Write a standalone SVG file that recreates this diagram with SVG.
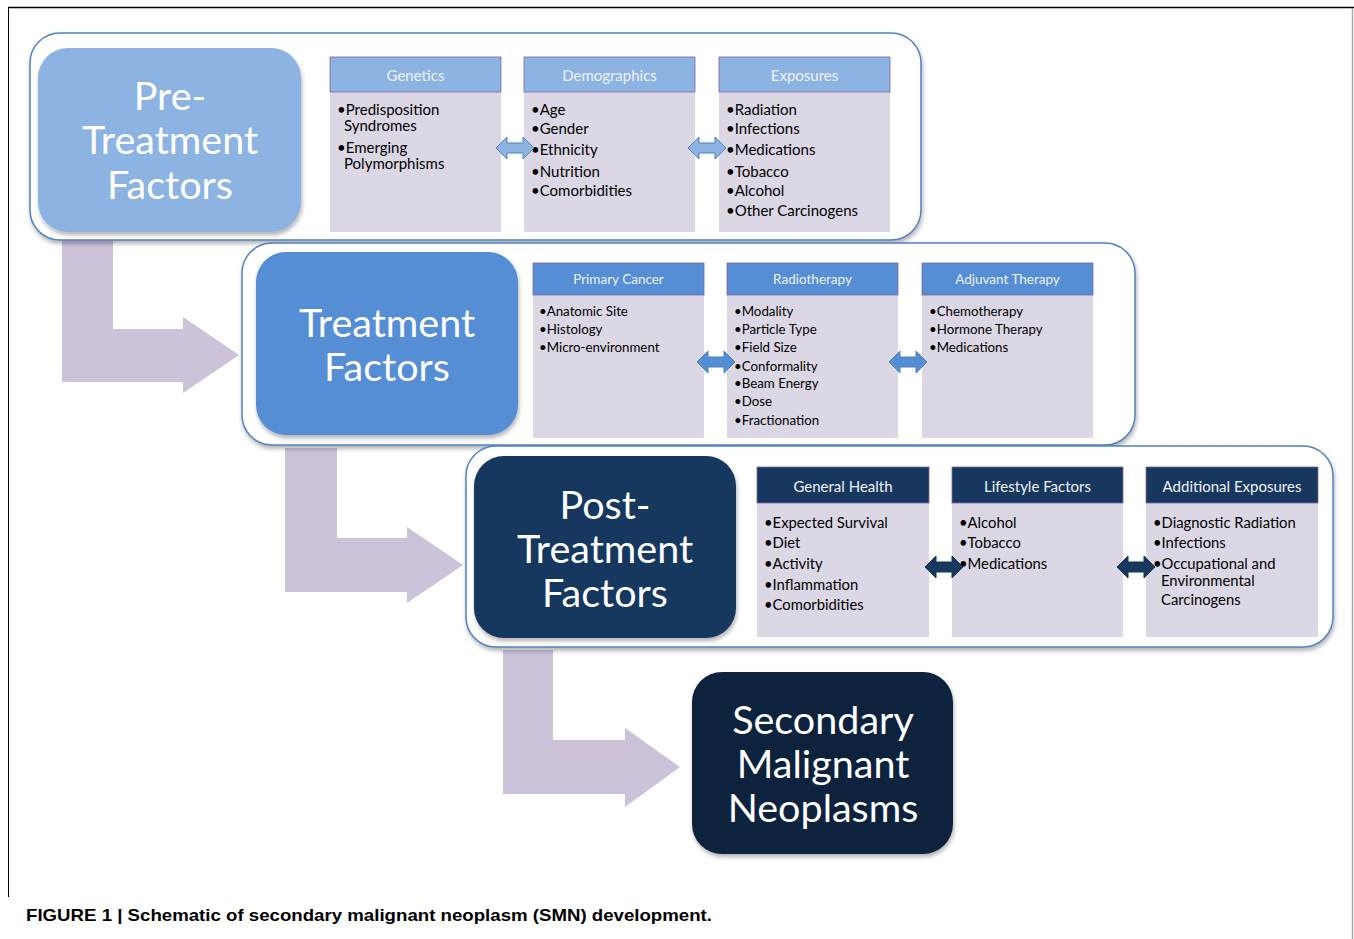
<svg xmlns="http://www.w3.org/2000/svg" width="1354" height="939" viewBox="0 0 1354 939">
<defs>
<style>
.big{font-family:Lato,"Open Sans",sans-serif;font-size:39.5px;fill:#ffffff;text-anchor:middle}
.hd{font-family:Lato,"Open Sans",sans-serif;font-size:15px;text-anchor:middle;fill:#eef2fa}
.hd2{font-family:Lato,"Open Sans",sans-serif;font-size:13.5px;text-anchor:middle;fill:#eef2fa}
.b1{font-family:Lato,"Open Sans",sans-serif;font-size:15px;fill:#000}
.b2{font-family:Lato,"Open Sans",sans-serif;font-size:13.3px;fill:#000}
.b3{font-family:Lato,"Open Sans",sans-serif;font-size:14.8px;fill:#000}
.cont{fill:#ffffff;stroke:#4f81bd;stroke-width:1.5}
.body{fill:#dcd7e4}
.lav{fill:#ccc3da}
</style>
<filter id="sh" x="-10%" y="-10%" width="120%" height="125%">
<feDropShadow dx="1" dy="3" stdDeviation="2" flood-color="#000" flood-opacity="0.3"/>
</filter>
<path id="dbl" d="M-19,0 L-8,-11 L-8,-5 L8,-5 L8,-11 L19,0 L8,11 L8,5 L-8,5 L-8,11 Z"/>
</defs>
<rect x="0" y="0" width="1354" height="939" fill="#ffffff"/>
<g id="frame">
<line x1="8" y1="7.5" x2="1354" y2="7.5" stroke="#000" stroke-width="1.5"/>
<line x1="8.5" y1="7" x2="8.5" y2="897" stroke="#000" stroke-width="1"/>
<line x1="1352.5" y1="8" x2="1352.5" y2="939" stroke="#aaaaaa" stroke-width="1.5"/>
</g>
<g id="connectors">
<path class="lav" d="M62,238 L113,238 L113,329 L183,329 L183,317 L239,355 L183,393 L183,382 L62,382 Z"/>
<path class="lav" d="M285,448 L337,448 L337,538 L407,538 L407,527 L463,565 L407,603 L407,592 L285,592 Z"/>
<path class="lav" d="M503,650 L553,650 L553,740 L625,740 L625,728 L680,767 L625,807 L625,794 L503,794 Z"/>
</g>
<g id="row1">
<rect class="cont" x="30" y="33" width="891" height="207" rx="30" filter="url(#sh)"/>
</g>
<g id="row2c">
<rect class="cont" x="242" y="243" width="893" height="202" rx="30" filter="url(#sh)"/>
</g>
<g id="row3c">
<rect class="cont" x="466" y="446" width="867" height="201" rx="30" filter="url(#sh)"/>
</g>
<g id="pre-treatment">
<rect x="38" y="48" width="263" height="184" rx="30" fill="#8db3e2" filter="url(#sh)"/>
<text class="big" x="170" y="110">Pre-</text>
<text class="big" x="170" y="154">Treatment</text>
<text class="big" x="170" y="199">Factors</text>
</g>
<g id="genetics">
<rect class="body" x="330" y="92" width="171" height="140"/>
<rect x="330" y="57" width="171" height="35" fill="#8db3e2" stroke="#8064a2" stroke-width="0.8"/>
<text class="hd" x="415.5" y="81">Genetics</text>
<text class="b1" x="337" y="115">•Predisposition</text>
<text class="b1" x="344" y="131">Syndromes</text>
<text class="b1" x="337" y="153">•Emerging</text>
<text class="b1" x="344" y="169">Polymorphisms</text>
</g>
<g id="demographics">
<rect class="body" x="524" y="92" width="171" height="140"/>
<rect x="524" y="57" width="171" height="35" fill="#8db3e2" stroke="#8064a2" stroke-width="0.8"/>
<text class="hd" x="609.5" y="81">Demographics</text>
<text class="b1" x="531" y="115">•Age</text>
<text class="b1" x="531" y="134">•Gender</text>
<text class="b1" x="531" y="155">•Ethnicity</text>
<text class="b1" x="531" y="177">•Nutrition</text>
<text class="b1" x="531" y="196">•Comorbidities</text>
</g>
<g id="exposures">
<rect class="body" x="719" y="92" width="171" height="140"/>
<rect x="719" y="57" width="171" height="35" fill="#8db3e2" stroke="#8064a2" stroke-width="0.8"/>
<text class="hd" x="804.5" y="81">Exposures</text>
<text class="b1" x="726" y="115">•Radiation</text>
<text class="b1" x="726" y="134">•Infections</text>
<text class="b1" x="726" y="155">•Medications</text>
<text class="b1" x="726" y="177">•Tobacco</text>
<text class="b1" x="726" y="196">•Alcohol</text>
<text class="b1" x="726" y="216">•Other Carcinogens</text>
</g>
<g id="treatment">
<rect x="256" y="252" width="262" height="183" rx="30" fill="#558ed5" filter="url(#sh)"/>
<text class="big" x="387" y="337">Treatment</text>
<text class="big" x="387" y="381">Factors</text>
</g>
<g id="primary-cancer">
<rect class="body" x="533" y="295" width="171" height="143"/>
<rect x="533" y="263" width="171" height="32" fill="#558ed5" stroke="#8064a2" stroke-width="0.8"/>
<text class="hd2" x="618.5" y="284">Primary Cancer</text>
<text class="b2" x="539" y="316">•Anatomic Site</text>
<text class="b2" x="539" y="334">•Histology</text>
<text class="b2" x="539" y="352">•Micro-environment</text>
</g>
<g id="radiotherapy">
<rect class="body" x="727" y="295" width="171" height="143"/>
<rect x="727" y="263" width="171" height="32" fill="#558ed5" stroke="#8064a2" stroke-width="0.8"/>
<text class="hd2" x="812.5" y="284">Radiotherapy</text>
<text class="b2" x="734" y="316">•Modality</text>
<text class="b2" x="734" y="334">•Particle Type</text>
<text class="b2" x="734" y="352">•Field Size</text>
<text class="b2" x="734" y="371">•Conformality</text>
<text class="b2" x="734" y="388">•Beam Energy</text>
<text class="b2" x="734" y="406">•Dose</text>
<text class="b2" x="734" y="425">•Fractionation</text>
</g>
<g id="adjuvant-therapy">
<rect class="body" x="922" y="295" width="171" height="143"/>
<rect x="922" y="263" width="171" height="32" fill="#558ed5" stroke="#8064a2" stroke-width="0.8"/>
<text class="hd2" x="1007.5" y="284">Adjuvant Therapy</text>
<text class="b2" x="929" y="316">•Chemotherapy</text>
<text class="b2" x="929" y="334">•Hormone Therapy</text>
<text class="b2" x="929" y="352">•Medications</text>
</g>
<g id="post-treatment">
<rect x="474" y="456" width="262" height="182" rx="30" fill="#17375e" filter="url(#sh)"/>
<text class="big" x="605" y="519">Post-</text>
<text class="big" x="605" y="563">Treatment</text>
<text class="big" x="605" y="607">Factors</text>
</g>
<g id="general-health">
<rect class="body" x="757" y="503" width="172" height="134"/>
<rect x="757" y="467" width="172" height="36" fill="#17375e" stroke="#8064a2" stroke-width="0.8"/>
<text class="hd" x="843" y="492">General Health</text>
<text class="b3" x="764" y="528">•Expected Survival</text>
<text class="b3" x="764" y="548">•Diet</text>
<text class="b3" x="764" y="569">•Activity</text>
<text class="b3" x="764" y="590">•Inflammation</text>
<text class="b3" x="764" y="610">•Comorbidities</text>
</g>
<g id="lifestyle-factors">
<rect class="body" x="952" y="503" width="171" height="134"/>
<rect x="952" y="467" width="171" height="36" fill="#17375e" stroke="#8064a2" stroke-width="0.8"/>
<text class="hd" x="1037.5" y="492">Lifestyle Factors</text>
<text class="b3" x="959" y="528">•Alcohol</text>
<text class="b3" x="959" y="548">•Tobacco</text>
<text class="b3" x="959" y="569">•Medications</text>
</g>
<g id="additional-exposures">
<rect class="body" x="1146" y="503" width="172" height="134"/>
<rect x="1146" y="467" width="172" height="36" fill="#17375e" stroke="#8064a2" stroke-width="0.8"/>
<text class="hd" x="1232" y="492">Additional Exposures</text>
<text class="b3" x="1153" y="528">•Diagnostic Radiation</text>
<text class="b3" x="1153" y="548">•Infections</text>
<text class="b3" x="1153" y="569">•Occupational and</text>
<text class="b3" x="1161" y="586">Environmental</text>
<text class="b3" x="1161" y="605">Carcinogens</text>
</g>
<g id="links">
<use href="#dbl" transform="translate(515,148)" fill="#8db3e2" stroke="#4f81bd" stroke-width="1"/>
<use href="#dbl" transform="translate(707,148)" fill="#8db3e2" stroke="#4f81bd" stroke-width="1"/>
<use href="#dbl" transform="translate(716,362)" fill="#558ed5" stroke="#4f81bd" stroke-width="1"/>
<use href="#dbl" transform="translate(908,362)" fill="#558ed5" stroke="#4f81bd" stroke-width="1"/>
<use href="#dbl" transform="translate(944,567)" fill="#17375e" stroke="#17375e" stroke-width="1"/>
<use href="#dbl" transform="translate(1136,567)" fill="#17375e" stroke="#17375e" stroke-width="1"/>
</g>
<g id="smn">
<rect x="692" y="672" width="261" height="182" rx="30" fill="#10243e" filter="url(#sh)"/>
<text class="big" x="823" y="734">Secondary</text>
<text class="big" x="823" y="778">Malignant</text>
<text class="big" x="823" y="822">Neoplasms</text>
</g>
<g id="caption">
<text x="26" y="921" font-family="'Liberation Sans',Arial,sans-serif" font-weight="bold" font-size="17" fill="#000" textLength="686" lengthAdjust="spacingAndGlyphs">FIGURE 1 | Schematic of secondary malignant neoplasm (SMN) development.</text>
</g>
</svg>
